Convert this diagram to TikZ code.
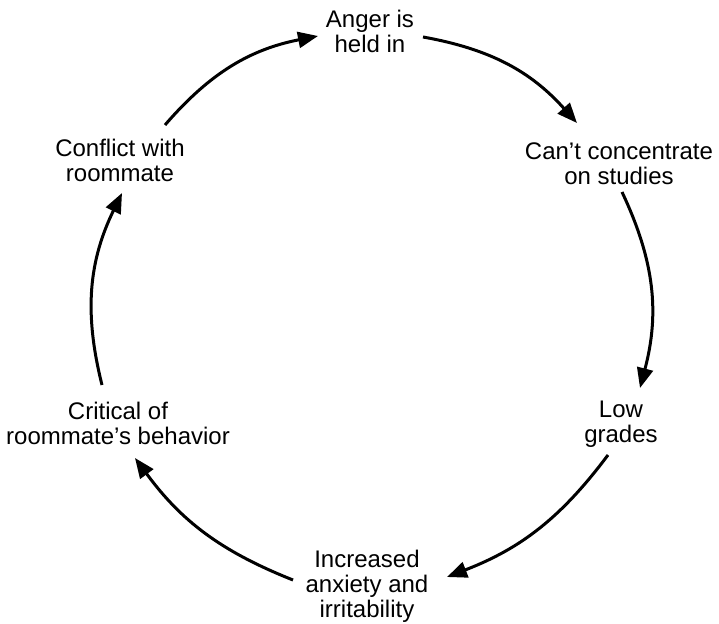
\documentclass[tikz,border=0pt]{standalone}
\usepackage{fontspec}
\setmainfont{Liberation Sans}
\usetikzlibrary{arrows.meta}

\begin{document}
\begin{tikzpicture}[x=0.5pt, y=0.5pt,
    stage/.style={align=center, anchor=center, inner sep=0pt, font=\fontsize{12}{12.5}\selectfont},
    link/.style={->, line width=1.5pt},
    >={Triangle[length=10pt,width=8pt]}]
    \useasboundingbox (0,0) rectangle (719,623);
    \node (anger) [stage] at (370, 591.5) {Anger is\\held in};
    \node (cant) [stage] at (619, 459) {Can’t concentrate\\on studies};
    \node (low) [stage] at (621, 198.5) {Low\\grades};
    \node (incr) [stage] at (367, 37) {Increased\\anxiety and\\irritability};
    \node (crit) [stage] at (118, 200) {Critical of\\roommate’s behavior};
    \node (confl) [stage] at (120, 463) {Conflict with\\roommate};
    \draw[link] ([shift={(45,35)}]confl.center) to[bend left=19] ([shift={(-52,-4.5)}]anger.center);
    \draw[link] ([shift={(53,-5.5)}]anger.center) to[bend left=19] ([shift={(-42,41)}]cant.center);
    \draw[link] ([shift={(3,-28)}]cant.center) to[bend left=20] ([shift={(19,36.5)}]low.center);
    \draw[link] ([shift={(-13,-30.5)}]low.center) to[bend left=16] ([shift={(80,9)}]incr.center);
    \draw[link] ([shift={(-74,6)}]incr.center) to[bend left=16] ([shift={(17,-35)}]crit.center);
    \draw[link] ([shift={(-16,38)}]crit.center) to[bend left=20] ([shift={(2,-33)}]confl.center);
  \end{tikzpicture}
\end{document}
